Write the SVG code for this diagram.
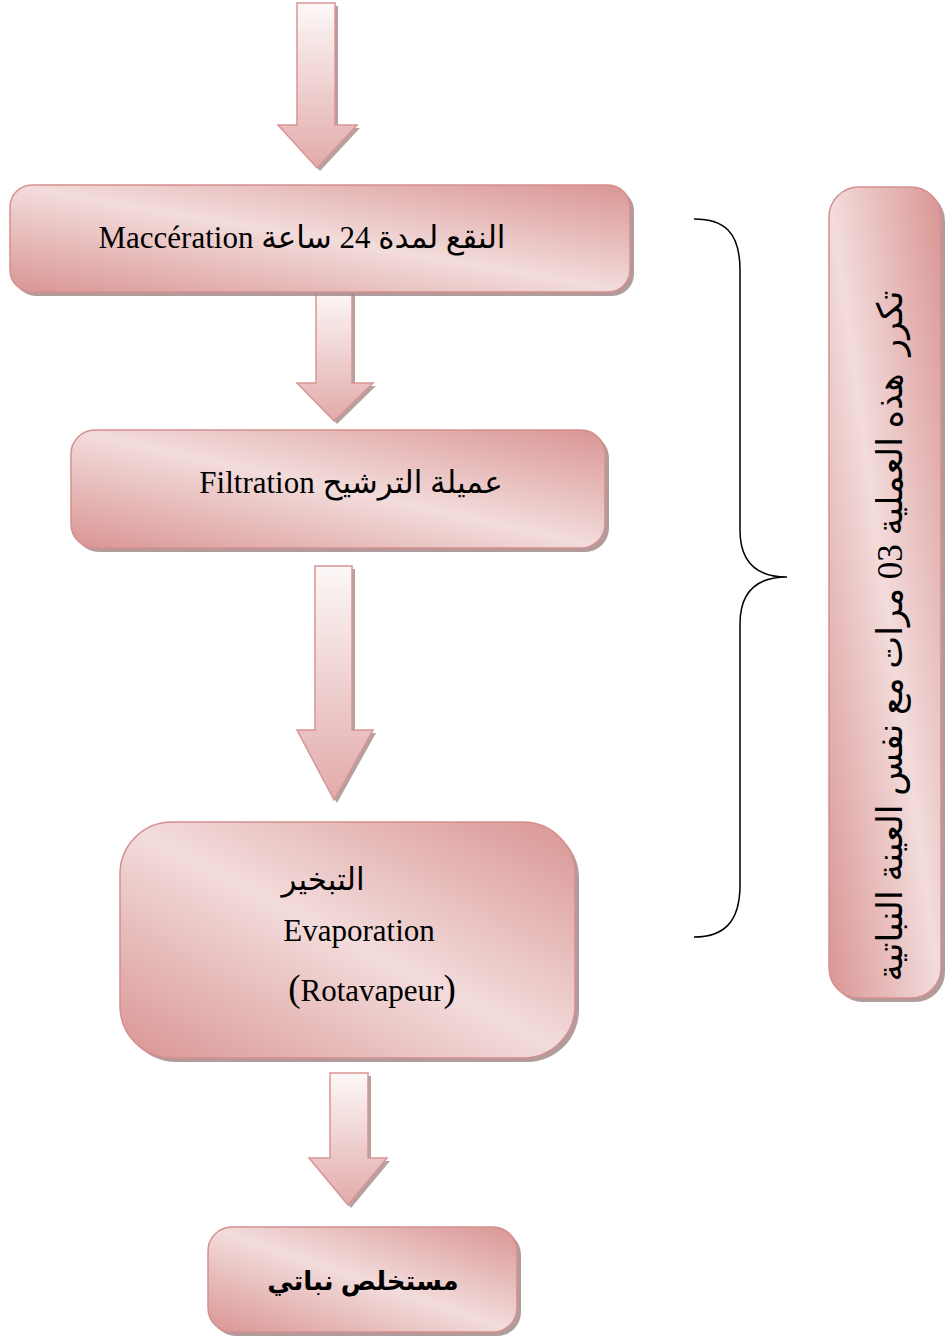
<svg xmlns="http://www.w3.org/2000/svg" width="945" height="1337" viewBox="0 0 945 1337">
<defs>
<linearGradient id="boxg" x1="0" y1="1" x2="1" y2="0">
<stop offset="0" stop-color="#d99594"/>
<stop offset="0.5" stop-color="#f2dcdb"/>
<stop offset="1" stop-color="#d99594"/>
</linearGradient>
<linearGradient id="arrg" x1="0" y1="0" x2="0" y2="1">
<stop offset="0" stop-color="#fdf8f8"/>
<stop offset="1" stop-color="#e2aaaa"/>
</linearGradient>
<style>
.box{fill:url(#boxg);stroke:#d58f8f;stroke-width:1.5}
.shadow{fill:#a48a8a;opacity:0.85}
.arr{fill:url(#arrg);stroke:#d99594;stroke-width:1.5}
.ashadow{fill:#a48a8a;opacity:0.8}
.t{font-family:"Liberation Serif","DejaVu Serif","DejaVu Sans",serif;fill:#000}
.tb{font-family:"Liberation Sans","DejaVu Sans",sans-serif;font-weight:bold;fill:#000}
.brace{fill:none;stroke:#000;stroke-width:1.5}
</style>
</defs>

<g id="connectors">
<g id="arrow1">
<path class="ashadow" d="M300,6 H338 V128 H360 L320,171 L281,128 H300 Z"/>
<path class="arr" d="M297,3 H335 V125 H357 L317,168 L278,125 H297 Z"/>
</g>
<g id="arrow2">
<path class="ashadow" d="M319,293 H355 V386 H376 L337,424 L300,386 H319 Z"/>
<path class="arr" d="M316,290 H352 V383 H373 L334,421 L297,383 H316 Z"/>
</g>
<g id="arrow3">
<path class="ashadow" d="M318,569 H355 V733 H376 L337,803 L300,733 H318 Z"/>
<path class="arr" d="M315,566 H352 V730 H373 L334,800 L297,730 H315 Z"/>
</g>
<g id="arrow4">
<path class="ashadow" d="M333,1076 H371 V1161 H390 L351,1208 L312,1161 H333 Z"/>
<path class="arr" d="M330,1073 H368 V1158 H387 L348,1205 L309,1158 H330 Z"/>
</g>
<path id="brace" class="brace" d="M694,219 C724,219 740,232 740,270 V530 C740,565 760,577 787,577 C760,577 740,589 740,624 V885 C740,922 724,937 694,937"/>
</g>

<g id="node-maceration">
<rect class="shadow" x="14" y="189" width="620" height="107" rx="22"/>
<rect class="box" x="10" y="185" width="620" height="107" rx="22"/>
<text class="t" x="302" y="248" font-size="31" text-anchor="middle" direction="rtl">النقع لمدة 24 ساعة Maccération</text>
</g>

<g id="node-filtration">
<rect class="shadow" x="75" y="434" width="534" height="118" rx="24"/>
<rect class="box" x="71" y="430" width="534" height="118" rx="24"/>
<text class="t" x="351" y="493" font-size="31" text-anchor="middle" direction="rtl">عميلة الترشيح Filtration</text>
</g>

<g id="node-evaporation">
<rect class="shadow" x="124" y="826" width="455" height="236" rx="52"/>
<rect class="box" x="120" y="822" width="455" height="236" rx="52"/>
<text class="t" x="323" y="890" font-size="31" text-anchor="middle" direction="rtl">التبخير</text>
<text class="t" x="359" y="941" font-size="31" text-anchor="middle">Evaporation</text>
<text class="t" x="372" y="1001" font-size="31" text-anchor="middle"><tspan font-size="37">(</tspan>Rotavapeur<tspan font-size="37">)</tspan></text>
</g>

<g id="node-extract">
<rect class="shadow" x="212" y="1231" width="309" height="105" rx="24"/>
<rect class="box" x="208" y="1227" width="309" height="105" rx="24"/>
<text class="tb" x="363" y="1290" font-size="26" text-anchor="middle" direction="rtl">مستخلص نباتي</text>
</g>

<g id="node-repeat">
<rect class="shadow" x="833" y="191" width="112" height="811" rx="30"/>
<rect class="box" x="829" y="187" width="112" height="811" rx="30"/>
<text class="t" transform="translate(902,636) rotate(-90)" x="0" y="0" font-size="35" text-anchor="middle" direction="rtl" xml:space="preserve">تكرر  هذه العملية 03 مرات مع نفس العينة النباتية</text>
</g>
</svg>
